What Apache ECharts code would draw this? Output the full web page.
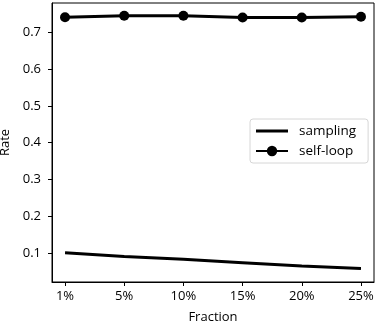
<!DOCTYPE html>
<html>
<head>
<meta charset="utf-8">
<script src="https://cdn.jsdelivr.net/npm/echarts@6/dist/echarts.min.js"></script>
<style>
  html, body { margin: 0; padding: 0; background: #fff; }
  #chart { width: 377px; height: 321px; }
</style>
</head>
<body>
<div id="chart"></div>
<script>
// values
const fractions = ['1%', '5%', '10%', '15%', '20%', '25%'];
const sampling = [0.101, 0.091, 0.083, 0.074, 0.065, 0.058];
const selfLoop = [0.741, 0.745, 0.745, 0.740, 0.740, 0.742];
const yTicks = [0.1, 0.2, 0.3, 0.4, 0.5, 0.6, 0.7];

const font = 'Open Sans';
const idx = fractions.map((f, i) => i);

const chart = echarts.init(document.getElementById('chart'));

chart.setOption({
    animation: false,
    grid: {
        left: 52, right: 3, top: 3, bottom: 39,
        outerBoundsMode: 'none',
        show: true, borderColor: '#000', borderWidth: 1,
        backgroundColor: '#fff'
    },
    legend: {
        orient: 'vertical',
        left: 250, top: 119,
        padding: [5, 12, 5, 5],
        itemGap: 6,
        itemWidth: 32, itemHeight: 13,
        borderColor: '#d6d6d6', borderWidth: 1, borderRadius: 3,
        backgroundColor: '#fff',
        textStyle: { fontFamily: font, fontSize: 13.5, color: '#000', padding: [0, 0, 0, 6] },
        data: [
            // plain line icon for the series without markers
            { name: 'sampling', icon: 'path://M0,0M0,13M0,5L32,5L32,8L0,8Z', itemStyle: { color: '#000' } },
            'self-loop'
        ]
    },
    xAxis: {
        type: 'value',
        min: -0.22, max: 5.22,
        name: 'Fraction', nameLocation: 'middle', nameGap: 29,
        nameTextStyle: { fontFamily: font, fontSize: 13, color: '#000' },
        axisLine: { show: true, onZero: false, lineStyle: { color: '#000', width: 1 } },
        splitLine: { show: false },
        axisTick: { show: true, length: 4, lineStyle: { color: '#000', width: 1 }, customValues: idx },
        axisLabel: {
            fontFamily: font, fontSize: 13, color: '#000', margin: 8,
            customValues: idx,
            formatter: v => fractions[Math.round(v)]
        }
    },
    yAxis: {
        type: 'value',
        min: 0.0215, max: 0.7795,
        name: 'Rate', nameLocation: 'middle', nameGap: 36,
        nameTextStyle: { fontFamily: font, fontSize: 13, color: '#000' },
        axisLine: { show: true, onZero: false, lineStyle: { color: '#000', width: 1 } },
        splitLine: { show: false },
        axisTick: { show: true, length: 4, lineStyle: { color: '#000', width: 1 }, customValues: yTicks },
        axisLabel: {
            fontFamily: font, fontSize: 13, color: '#000', margin: 11,
            customValues: yTicks,
            formatter: v => v.toFixed(1)
        }
    },
    series: [
        {
            name: 'sampling',
            type: 'line',
            data: sampling.map((v, i) => [i, v]),
            symbol: 'none',
            lineStyle: { color: '#000', width: 3 },
            itemStyle: { color: '#000' }
        },
        {
            name: 'self-loop',
            type: 'line',
            data: selfLoop.map((v, i) => [i, v]),
            symbol: 'circle',
            symbolSize: 10,
            lineStyle: { color: '#000', width: 3 },
            itemStyle: { color: '#000' }
        }
    ]
});
</script>
</body>
</html>
